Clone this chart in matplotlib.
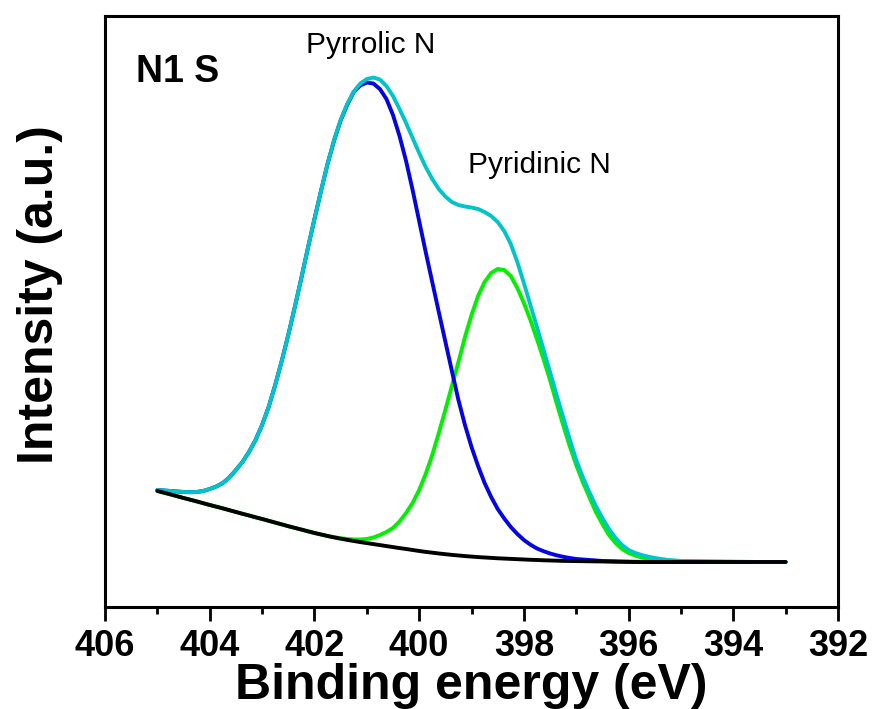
import matplotlib
matplotlib.use('Agg')
import matplotlib.pyplot as plt
from matplotlib.ticker import MultipleLocator

plt.rcParams['font.family'] = ['Liberation Sans', 'DejaVu Sans']

# binding energy grid (eV), 405 -> 395 in 0.125 steps, then the flat tail
energy = [405.0, 404.875, 404.75, 404.625, 404.5, 404.375, 404.25, 404.125,
          404.0, 403.875, 403.75, 403.625, 403.5, 403.375, 403.25, 403.125,
          403.0, 402.875, 402.75, 402.625, 402.5, 402.375, 402.25, 402.125,
          402.0, 401.875, 401.75, 401.625, 401.5, 401.375, 401.25, 401.125,
          401.0, 400.875, 400.75, 400.625, 400.5, 400.375, 400.25, 400.125,
          400.0, 399.875, 399.75, 399.625, 399.5, 399.375, 399.25, 399.125,
          399.0, 398.875, 398.75, 398.625, 398.5, 398.375, 398.25, 398.125,
          398.0, 397.875, 397.75, 397.625, 397.5, 397.375, 397.25, 397.125,
          397.0, 396.875, 396.75, 396.625, 396.5, 396.375, 396.25, 396.125,
          396.0, 395.875, 395.75, 395.625, 395.5, 395.375, 395.25, 395.125,
          395.0, 394.5, 394.0, 393.5, 393.0]

# intensities (a.u.)
background = [116, 114.3, 112.6, 110.8, 109, 107.3, 105.6, 103.8,
              102, 100.3, 98.6, 96.8, 95, 93.2, 91.5, 89.7,
              88, 86.2, 84.4, 82.6, 80.8, 79.1, 77.4, 75.7,
              74, 72.5, 71, 69.6, 68.3, 67.1, 66, 64.9,
              63.9, 62.9, 61.9, 60.9, 59.9, 58.9, 58, 57,
              56, 55.1, 54.3, 53.5, 52.8, 52.1, 51.5, 50.9,
              50.4, 49.9, 49.5, 49.1, 48.7, 48.4, 48.1, 47.8,
              47.5, 47.2, 47, 46.7, 46.5, 46.3, 46.1, 46,
              45.9, 45.8, 45.7, 45.6, 45.5, 45.4, 45.3, 45.2,
              45.1, 45, 45, 45, 45, 45, 45, 45,
              45, 45, 45, 45, 45]

envelope = [117, 116.5, 116, 115.5, 115, 114.8, 115, 116,
            118, 120.5, 124, 129.5, 137, 145, 155, 167,
            182, 200, 222, 246, 272, 300, 329, 359,
            388, 416, 443, 467, 487, 503, 515.5, 523.5,
            528, 529.5, 527.5, 521, 511, 498, 484, 469,
            454, 440, 428, 418, 410.5, 405, 402, 400.5,
            399.5, 398, 395, 391, 385, 376, 363, 345,
            324, 302, 280, 257.5, 235, 212, 190, 168,
            147, 130, 115, 101, 89, 78, 69, 62,
            57, 54, 52, 50.3, 49, 48, 47, 46.5,
            46, 45.5, 45.2, 45, 45]

pyrrolic = [117, 116.5, 116, 115.5, 115, 114.8, 115, 116,
            118, 120.5, 124, 129.5, 137, 145, 155, 167,
            182, 200, 222, 246, 272, 300, 329, 359,
            388, 416, 443, 466.5, 486.5, 502, 515, 521.5,
            524.5, 523.5, 518, 508, 492, 471, 446, 417,
            386, 355, 325, 295, 265.5, 236, 207, 182,
            160, 141, 124, 110, 98, 88.5, 80, 73,
            67, 62.3, 58.5, 55.8, 53.5, 51.7, 50.2, 49,
            48, 47.5, 47, 46.5, 46, 45.8, 45.6, 45.4,
            45.3, 45.2, 45.1, 45, 45, 45, 45, 45,
            45, 45, 45, 45, 45]

pyridinic = [116, 114.3, 112.6, 110.8, 109, 107.3, 105.6, 103.8,
             102, 100.3, 98.6, 96.8, 95, 93.2, 91.5, 89.7,
             88, 86.2, 84.4, 82.6, 80.8, 79.1, 77.4, 75.7,
             74, 72.5, 71, 69.8, 68.8, 68, 67.5, 67.5,
             68, 69.5, 72, 75, 79, 85.5, 94, 104,
             117, 133, 152, 174, 197, 221, 245, 270,
             292, 311, 325, 334, 338, 337, 331, 319,
             304, 287, 268, 248, 227, 204, 182, 161,
             142, 125, 110, 95, 83, 72, 64, 58,
             54, 51.5, 49.5, 48.3, 47.5, 46.8, 46.4, 46.1,
             46, 45.5, 45.2, 45, 45]

fig = plt.figure(figsize=(8.76, 7.09), dpi=100)
ax = fig.add_axes([0.1199, 0.1439, 0.8367, 0.8335])

lw = 2.8
style = dict(lw=lw, solid_joinstyle='round', solid_capstyle='round')
ax.plot(energy, pyridinic, color='#00F000', zorder=2, **style)
ax.plot(energy, pyrrolic, color='#0505E0', zorder=3, **style)
ax.plot(energy, envelope, color='#00C4C8', zorder=4, **style)
ax.plot(energy, background, color='black', zorder=5, **style)

ax.set_xlim(406, 392)
ax.set_ylim(0, 591)

ax.xaxis.set_major_locator(MultipleLocator(2))
ax.xaxis.set_minor_locator(MultipleLocator(1))
ax.tick_params(axis='x', which='major', direction='out', length=10, width=2,
               labelsize=26, pad=6)
ax.tick_params(axis='x', which='minor', direction='out', length=5, width=2)
ax.set_yticks([])
for lab in ax.get_xticklabels():
    lab.set_fontweight('bold')
for sp in ax.spines.values():
    sp.set_linewidth(2.2)

ax.set_xlabel('Binding energy (eV)', fontsize=36, fontweight='bold')
ax.xaxis.set_label_coords(0.5, -0.155)
ax.xaxis.label.set_va('baseline')
ax.set_ylabel('Intensity (a.u.)', fontsize=36, fontweight='bold')
ax.yaxis.set_label_coords(-0.071, 0.528)
ax.yaxis.label.set_va('baseline')

ax.text(0.0423, 0.888, 'N1 S', transform=ax.transAxes, fontsize=27,
        fontweight='bold', va='baseline', ha='left')
ax.text(400.93, 554, 'Pyrrolic N', fontsize=21.5, ha='center', va='baseline')
ax.text(397.70, 434, 'Pyridinic N', fontsize=21.5, ha='center', va='baseline')

fig.savefig('out.png', dpi=100)
